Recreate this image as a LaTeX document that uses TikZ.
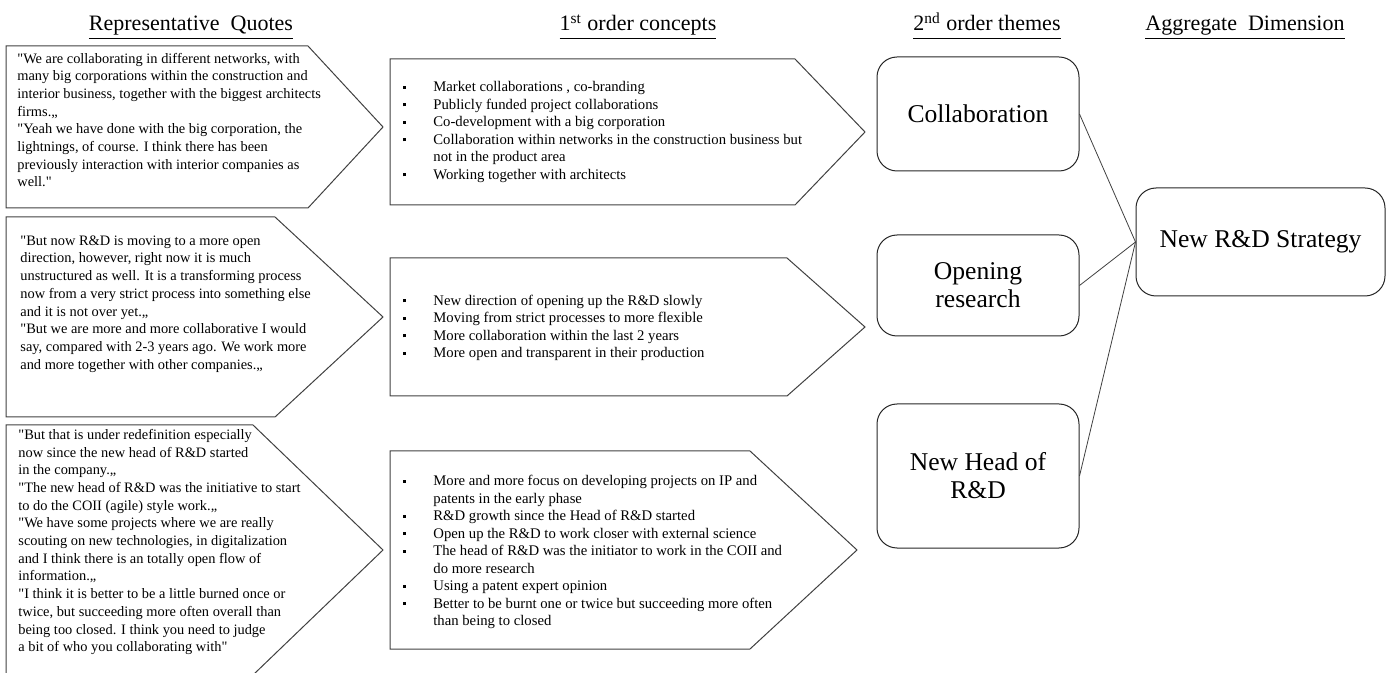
\documentclass[tikz,border=0pt]{standalone}
\usepackage{fontspec}
\setmainfont{Liberation Serif}[Ligatures=TeXOff]
\usepackage{graphicx}
\newcommand{\blt}{\makebox[15pt][l]{\rule[1.5pt]{1.5pt}{1.5pt}}}
\newcommand{\bind}{\hspace*{15pt}}
\newcommand{\hd}[1]{\underline{#1\vphantom{pg}}}

\begin{document}
\begin{tikzpicture}[x=0.5pt,y=-0.5pt,
		plate/.style={draw=black!75,line width=0.5pt},
		quote/.style={anchor=west,inner sep=0pt,align=left,font=\fontsize{7.2}{8.85}\selectfont},
		concept/.style={anchor=west,inner sep=0pt,align=left,font=\fontsize{7.35}{8.75}\selectfont},
		theme/.style={draw=black!85,line width=0.5pt,rounded corners=10pt,align=center,minimum width=101pt,font=\fontsize{12.8}{14}\selectfont},
		head/.style={anchor=base,font=\fontsize{11}{13}\selectfont}]
			\clip (0,0) rectangle (1387,673);

			\node[head] (H1) at (191,31) {\hd{Representative\ \ Quotes}};
			\node[head] (H2) at (638,31) {\hd{1\textsuperscript{st} order concepts}};
			\node[head] (H3) at (987,31) {\hd{2\textsuperscript{nd} order themes}};
			\node[head] (H4) at (1245,31) {\hd{Aggregate\ \ Dimension}};

			\draw[plate] (6,46) -- (308,46) -- (383,127) -- (308,208) -- (6,208) -- cycle;
			\draw[plate] (6,217) -- (275,217) -- (383,317) -- (275,417) -- (6,417) -- cycle;
			\draw[plate] (6,425) -- (253,425) -- (383,550) -- (253,675) -- (6,675) -- cycle;
			\draw[plate] (390,59) -- (795,59) -- (865,132) -- (795,205) -- (390,205) -- cycle;
			\draw[plate] (390,258) -- (787,258) -- (865,327) -- (787,396) -- (390,396) -- cycle;
			\draw[plate] (390,451) -- (750,451) -- (857,550) -- (750,649) -- (390,649) -- cycle;

			\node[quote] (Q1) at (17,120) {"We are collaborating in different networks, with\\
				many big corporations within the construction and\\
				interior business, together with the biggest architects\\
				firms.„\\
				"Yeah we have done with the big corporation, the\\
				lightnings, of course. I think there has been\\
				previously interaction with interior companies as\\
				well."};
			\node[quote] (Q2) at (20,304) {"But now R\&D is moving to a more open\\
				direction, however, right now it is much\\
				unstructured as well. It is a transforming process\\
				now from a very strict process into something else\\
				and it is not over yet.„\\
				"But we are more and more collaborative I would\\
				say, compared with 2-3 years ago. We work more\\
				and more together with other companies.„};
			\node[quote] (Q3) at (18,542) {"But that is under redefinition especially\\
				now since the new head of R\&D started\\
				in the company.„\\
				"The new head of R\&D was the initiative to start\\
				to do the COII (agile) style work.„\\
				"We have some projects where we are really\\
				scouting on new technologies, in digitalization\\
				and I think there is an totally open flow of\\
				information.„\\
				"I think it is better to be a little burned once or\\
				twice, but succeeding more often overall than\\
				being too closed. I think you need to judge\\
				a bit of who you collaborating with"};

			\node[concept] (C1) at (403,132) {\blt Market collaborations , co-branding\\
				\blt Publicly funded project collaborations\\
				\blt Co-development with a big corporation\\
				\blt Collaboration within networks in the construction business but\\
				\bind not in the product area\\
				\blt Working together with architects};
			\node[concept] (C2) at (403,328) {\blt New direction of opening up the R\&D slowly\\
				\blt Moving from strict processes to more flexible\\
				\blt More collaboration within the last 2 years\\
				\blt More open and transparent in their production};
			\node[concept] (C3) at (403,552) {\blt More and more focus on developing projects on IP and\\
				\bind patents in the early phase\\
				\blt R\&D growth since the Head of R\&D started\\
				\blt Open up the R\&D to work closer with external science\\
				\blt The head of R\&D was the initiator to work in the COII and\\
				\bind do more research\\
				\blt Using a patent expert opinion\\
				\blt Better to be burnt one or twice but succeeding more often\\
				\bind than being to closed};

			\node[theme,minimum height=57pt] (T1) at (978,114) {Collaboration};
			\node[theme,minimum height=50.5pt] (T2) at (978,285.5) {Opening\\research};
			\node[theme,minimum height=72pt] (T3) at (978,476) {New Head of\\R\&D};
			\node[theme,minimum width=124.5pt,minimum height=54pt] (AD) at (1260.5,242) {New R\&D Strategy};

			\path [draw=black!75] (T1.east) edge (AD.west);
			\path [draw=black!75] (T2.east) edge (AD.west);
			\path [draw=black!75] (T3.east) edge (AD.west);
		\end{tikzpicture}
\end{document}
